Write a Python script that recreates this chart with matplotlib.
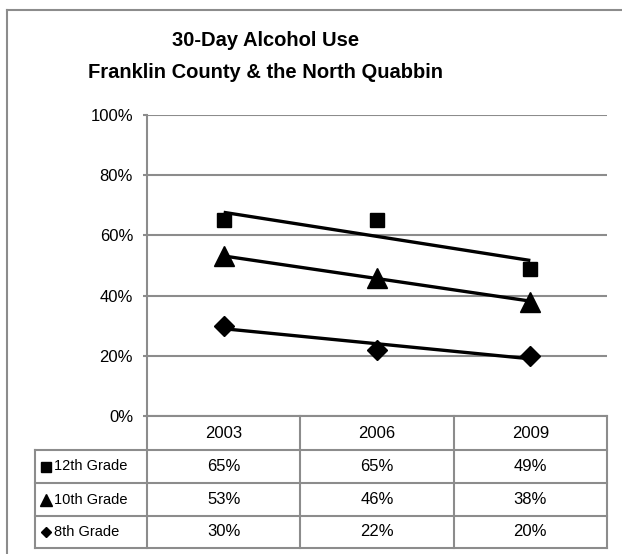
import matplotlib.pyplot as plt
import matplotlib.transforms as mtransforms
from matplotlib.lines import Line2D
import numpy as np

plt.rcParams["font.family"] = ["Liberation Sans", "DejaVu Sans"]

# data
years = ["2003", "2006", "2009"]
grades = ["12th Grade", "10th Grade", "8th Grade"]
grade_12 = [65, 65, 49]
grade_10 = [53, 46, 38]
grade_8 = [30, 22, 20]
y_ticks = [0, 20, 40, 60, 80, 100]

series = [grade_12, grade_10, grade_8]
markers = ["s", "^", "D"]
plot_ms = [10, 14, 10]
key_ms = [7, 8.5, 5.5]

GRAY = "#8c8c8c"
W, H = 622, 554

fig = plt.figure(figsize=(W / 100, H / 100), dpi=100)
# plot area in pixel terms: x 147..607, y 115..416
ax = fig.add_axes([147 / W, 1 - 416 / H, 460 / W, 301 / H])
ax_h = 301.0
col_px = 460 / len(years)

x = np.arange(len(years))
for vals, m, ms in zip(series, markers, plot_ms):
    ax.plot(x, vals, linestyle="none", marker=m, markersize=ms,
            color="black", zorder=4, clip_on=False)
    # linear trend line across the categories
    k, b = np.polyfit(x, vals, 1)
    ax.plot([x[0], x[-1]], [k * x[0] + b, k * x[-1] + b],
            color="black", lw=2.4, zorder=3, solid_capstyle="butt")

ax.set_xlim(-0.5, len(years) - 0.5)
ax.set_ylim(0, 100)
ax.set_yticks(y_ticks)
ax.set_yticklabels([f"{t}%" for t in y_ticks], fontsize=12)
ax.set_xticks([])
ax.grid(axis="y", color=GRAY, lw=1.5)
ax.set_axisbelow(True)
for side in ["top", "right", "bottom"]:
    ax.spines[side].set_visible(False)
ax.spines["left"].set_color(GRAY)
ax.spines["left"].set_linewidth(1.5)
ax.tick_params(axis="y", length=3, width=1.5, color=GRAY, pad=7)

# data table under the axes
trans = mtransforms.blended_transform_factory(ax.transData, ax.transAxes)
row_px = [416, 450, 483, 516, 548]
row_y = [(416 - p) / ax_h for p in row_px]
col_x = [-0.5 + i for i in range(len(years) + 1)]
label_left = -0.5 - 112 / col_px  # row header column in data units

line_kw = dict(color=GRAY, lw=1.5, clip_on=False, solid_capstyle="projecting")
# horizontal lines
ax.add_line(Line2D([col_x[0], col_x[-1]], [row_y[0], row_y[0]], transform=trans, **line_kw))
for yy in row_y[1:]:
    ax.add_line(Line2D([label_left, col_x[-1]], [yy, yy], transform=trans, **line_kw))
# vertical lines
for xx in col_x:
    ax.add_line(Line2D([xx, xx], [row_y[0], row_y[-1]], transform=trans, **line_kw))
ax.add_line(Line2D([label_left, label_left], [row_y[1], row_y[-1]], transform=trans, **line_kw))

# header row: years
hy = (row_y[0] + row_y[1]) / 2
for i, yr in enumerate(years):
    ax.text(x[i], hy, yr, transform=trans, ha="center", va="center", fontsize=12)

# grade rows
for r, (g, vals, m, ms) in enumerate(zip(grades, series, markers, key_ms)):
    cy = (row_y[r + 1] + row_y[r + 2]) / 2
    ax.plot([label_left + 11 / col_px], [cy], marker=m, markersize=ms, color="black",
            transform=trans, clip_on=False)
    ax.text(label_left + 19 / col_px, cy, g, transform=trans, ha="left", va="center",
            fontsize=10.5)
    for i, v in enumerate(vals):
        ax.text(x[i], cy, f"{v}%", transform=trans, ha="center", va="center", fontsize=12)

# title
fig.text(266 / W, 1 - 41 / H, "30-Day Alcohol Use", ha="center", va="center",
         fontsize=14.5, fontweight="bold")
fig.text(266 / W, 1 - 72 / H, "Franklin County & the North Quabbin", ha="center",
         va="center", fontsize=14.5, fontweight="bold")

# chart area border (left and top edges visible)
fig.add_artist(Line2D([7 / W, 7 / W], [0, 1 - 10 / H], color=GRAY, lw=1.5))
fig.add_artist(Line2D([7 / W, 1], [1 - 10 / H, 1 - 10 / H], color=GRAY, lw=1.5))

fig.savefig("out.png", dpi=100)
